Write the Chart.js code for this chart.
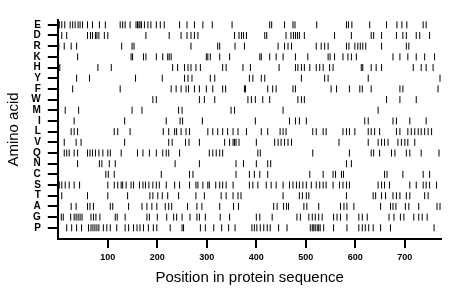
<!DOCTYPE html>
<html>
<head>
<meta charset="utf-8">
<script src="https://cdn.jsdelivr.net/npm/chart.js@4/dist/chart.umd.min.js"></script>
<style>
html,body{margin:0;padding:0;background:#fff;}
#wrap{width:460px;height:299px;position:relative;}
</style>
</head>
<body>
<div id="wrap"><canvas id="c" width="460" height="299"></canvas></div>
<script>
// Amino acid rows, top to bottom
const aminoAcids = ['E','D','R','K','H','Y','F','W','M','I','L','V','Q','N','C','S','T','A','G','P'];
// Positions (residue index) of each amino acid in the sequence
const E = [2,7,13,24,29,34,40,44,49,59,69,83,95,125,130,135,145,157,160,163,165,168,174,181,187,198,206,214,245,260,275,292,311,351,427,431,457,474,478,522,582,586,593,629,663,684,694,704,737,743];
const D = [7,17,59,65,69,75,78,82,93,100,177,224,248,260,268,275,282,356,365,370,374,380,417,421,460,470,475,479,483,487,497,558,592,632,637,653,683,696,703,723,730,750];
const R = [1,12,26,37,128,149,153,268,322,326,357,376,444,457,464,471,521,531,538,545,582,587,599,605,610,615,621,653,703,708];
const K = [39,147,150,172,177,198,211,221,224,228,299,302,307,326,346,407,410,427,440,454,479,504,545,549,558,575,585,592,602,676,690,706,723,740,760];
const H = [3,80,107,231,241,255,262,268,278,287,332,339,373,388,446,479,484,491,497,508,521,528,535,548,555,612,615,632,642,653,717,733,743,757];
const Y = [37,63,156,210,255,262,270,307,316,386,393,410,417,491,538,545,626,771];
const F = [29,125,228,238,248,258,263,275,285,299,312,332,338,376,378,423,433,440,474,479,551,562,588,609,614,632,690,696,767];
const W = [191,198,285,295,316,383,390,398,413,427,484,491,497,663,690,723];
const M = [14,41,149,169,243,250,349,356,454,646];
const I = [32,134,218,246,251,291,398,467,479,487,501,619,626,676,683,710,743];
const L = [26,32,39,113,120,145,212,223,235,239,248,258,265,302,312,322,332,342,353,363,380,410,423,448,454,460,514,521,535,541,575,582,588,599,626,632,639,649,683,690,706,713,720,727,733,740,747,754];
const V = [12,36,46,134,223,230,257,264,285,336,346,353,356,359,365,400,437,444,450,457,464,471,567,626,646,653,659,666,686,693,700,706,720];
const Q = [12,17,22,32,39,59,64,69,75,82,90,100,105,127,160,171,184,198,211,218,223,245,305,312,319,326,332,403,408,514,588,632,637,649,673,680,703,710,733,769];
const N = [39,83,88,103,115,236,285,359,374,400,423,429,582,592];
const C = [96,101,113,208,265,272,359,386,396,407,423,508,535,555,560,572,576,659,664,696,737,750];
const S = [2,7,14,22,32,43,100,113,120,127,130,137,147,152,164,171,176,183,191,198,204,218,235,245,265,278,282,292,302,305,318,326,332,339,353,386,393,403,420,430,440,454,467,474,481,487,494,501,511,521,528,535,541,555,568,575,582,588,646,653,659,669,710,723,737,743,750,764];
const T = [7,59,100,140,185,191,201,210,221,243,278,295,329,339,353,363,369,454,487,493,501,506,582,636,641,653,661,676,683,690,703,710,740,747];
const A = [26,36,59,64,71,105,110,142,169,179,189,199,216,223,229,261,280,290,326,354,364,435,442,455,461,465,496,502,526,570,577,583,597,651,671,676,682,701,708,728,765,771];
const G = [6,10,25,32,36,40,44,48,66,71,76,84,115,119,135,179,184,200,219,233,239,250,266,280,285,297,327,346,400,407,432,482,489,506,513,519,526,533,556,563,570,583,607,614,624,668,678,691,698,718,728,735,745];
const P = [17,27,37,47,61,66,70,74,78,82,91,98,105,118,135,142,152,159,165,172,182,192,199,226,250,253,287,297,314,330,344,357,391,396,401,408,415,422,428,445,462,509,513,516,519,523,526,529,536,556,583,607,614,620,627,636,651,671,759];
const rows = [E,D,R,K,H,Y,F,W,M,I,L,V,Q,N,C,S,T,A,G,P];
const xTicks = [100,200,300,400,500,600,700];
const xMin = 0, xMax = 773;

const FONT = "'Liberation Sans', Arial, Helvetica, sans-serif";
Chart.defaults.font.family = FONT;
Chart.defaults.color = '#000';

const datasets = rows.map((arr, i) => ({
  label: aminoAcids[i],
  data: arr.map(v => ({x: v, y: i})),
  pointStyle: 'line',
  rotation: 90,
  pointRadius: 3.5,
  pointHoverRadius: 3.5,
  borderColor: '#000',
  backgroundColor: '#000',
  borderWidth: 1,
  showLine: false
}));

new Chart(document.getElementById('c'), {
  type: 'scatter',
  data: {datasets},
  options: {
    responsive: false,
    animation: false,
    events: [],
    layout: {padding: {left: 0, right: 19, top: 20, bottom: 0}},
    plugins: {legend: {display: false}, tooltip: {enabled: false}},
    scales: {
      x: {
        type: 'linear',
        min: xMin, max: xMax,
        afterBuildTicks: s => { s.ticks = xTicks.map(v => ({value: v})); },
        afterFit: s => { s.height = 60; },
        grid: {drawOnChartArea: false, drawTicks: true, tickLength: 9, color: '#000', lineWidth: 2},
        border: {display: true, color: '#000', width: 2},
        ticks: {font: {size: 9, weight: 'bold'}, padding: 4, color: '#000', maxRotation: 0},
        title: {display: true, text: 'Position in protein sequence', font: {size: 15}, color: '#000', padding: {top: 0, bottom: 12}}
      },
      y: {
        type: 'linear',
        reverse: true,
        min: -0.45, max: 20.05,
        afterBuildTicks: s => { s.ticks = aminoAcids.map((a, i) => ({value: i})); },
        afterFit: s => { s.width = 58.3; },
        grid: {drawOnChartArea: false, drawTicks: true, tickLength: 10.5, color: '#000', lineWidth: 2},
        border: {display: true, color: '#000', width: 2},
        ticks: {font: {size: 10, weight: 'bold'}, padding: 7, color: '#000', autoSkip: false,
          callback: (v) => aminoAcids[v]},
        title: {display: true, text: 'Amino acid', font: {size: 15}, color: '#000', padding: {top: 5, bottom: 0}}
      }
    }
  }
});
</script>
</body>
</html>
